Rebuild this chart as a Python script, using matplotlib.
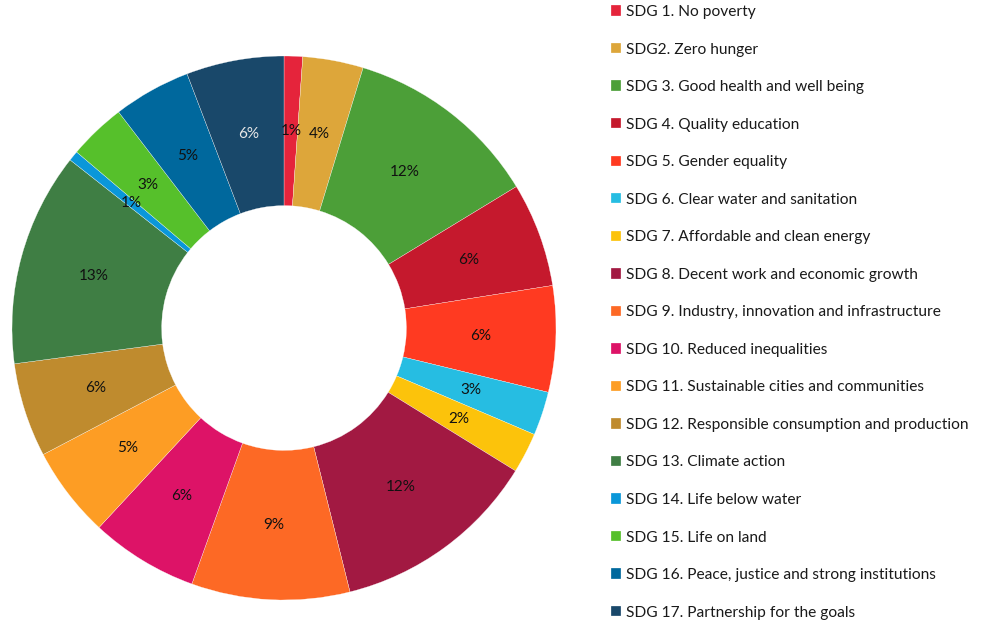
import matplotlib
matplotlib.use("Agg")
import matplotlib.pyplot as plt

plt.rcParams['font.family'] = ['Lato', 'DejaVu Sans']

labels = [
    "SDG 1. No poverty",
    "SDG2. Zero hunger",
    "SDG 3. Good health and well being",
    "SDG 4. Quality education",
    "SDG 5. Gender equality",
    "SDG 6. Clear water and sanitation",
    "SDG 7. Affordable and clean energy",
    "SDG 8. Decent work and economic growth",
    "SDG 9. Industry, innovation and infrastructure",
    "SDG 10. Reduced inequalities",
    "SDG 11. Sustainable cities and communities",
    "SDG 12. Responsible consumption and production",
    "SDG 13. Climate action",
    "SDG 14. Life below water",
    "SDG 15. Life on land",
    "SDG 16. Peace, justice and strong institutions",
    "SDG 17. Partnership for the goals",
]
values = [1.1, 3.6, 11.6, 6.2, 6.3, 2.6, 2.4, 12.3, 9.4, 6.4, 5.4, 5.6, 12.7, 0.6, 3.4, 4.6, 5.8]
colors = ["#E5243B", "#DDA63A", "#4C9F38", "#C5192D", "#FF3A21", "#26BDE2", "#FCC30B",
          "#A21942", "#FD6925", "#DD1367", "#FD9D24", "#BF8B2E", "#3F7E44", "#0A97D9",
          "#56C02B", "#00689D", "#19486A"]

W, H = 987, 620
fig = plt.figure(figsize=(W / 100, H / 100), dpi=100)
cx, cy, R = 284, 328, 272
ax = fig.add_axes([(cx - R) / W, (H - cy - R) / H, 2 * R / W, 2 * R / H])
wedges, texts, autotexts = ax.pie(
    values, colors=colors, startangle=90, counterclock=False,
    autopct='%.0f%%', pctdistance=0.725,
    wedgeprops=dict(width=0.55, edgecolor='white', linewidth=0.2),
    textprops=dict(fontsize=11, color='#111111'))
autotexts[-1].set_color('#e8e8e8')
ax.set_xlim(-1, 1)
ax.set_ylim(-1, 1)
ax.set_aspect('equal')
ax.axis('off')

fig.legend(wedges, labels, loc='upper left', bbox_to_anchor=(611 / W, 1 - 5 / H),
           frameon=False, fontsize=11.15, handlelength=0.65, handleheight=0.65,
           handletextpad=0.35, labelspacing=1.52, borderpad=0, borderaxespad=0,
           labelcolor='#1a1a1a')

fig.savefig("out.png", dpi=100)
